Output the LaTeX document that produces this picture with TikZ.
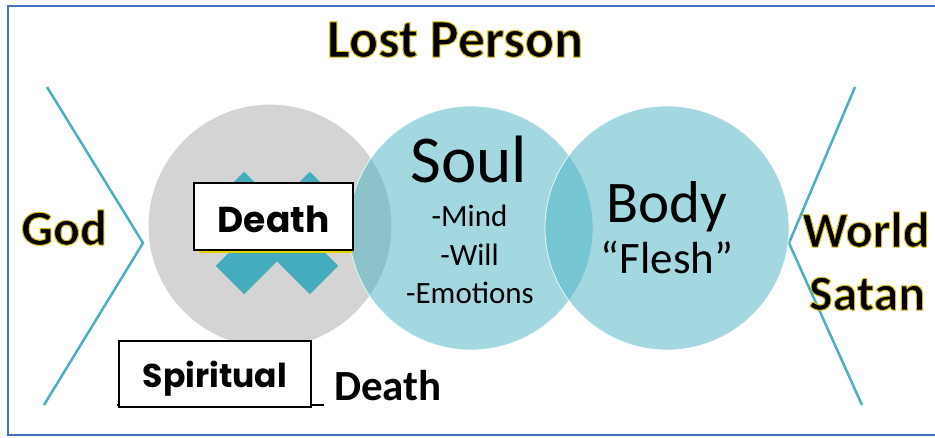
\documentclass[tikz,border=0pt]{standalone}
\usepackage{fontspec}
\setmainfont{Carlito}
\newfontfamily\gothic{Poppins}
\usetikzlibrary{calc}
\definecolor{frameblue}{HTML}{4472C4}
\definecolor{chev}{HTML}{4AAFBF}
\definecolor{graycirc}{HTML}{D4D4D4}
\definecolor{tealbase}{HTML}{49B2C3}
\definecolor{xteal}{HTML}{45ACBE}
\definecolor{boxyellow}{HTML}{E6D600}
\newcommand\glow[1]{\special{pdf:literal direct 2 Tr 1.0 w 0.84 0.74 0.06 RG}#1\special{pdf:literal direct 0 Tr 0 0 0 RG}}
\begin{document}
\begin{tikzpicture}[x=1pt,y=-1pt,
  every node/.style={inner sep=0pt, outer sep=0pt},
  chevline/.style={draw=chev, line width=2.5pt},
  bigcirc/.style={circle, minimum size=244pt},
  tealcirc/.style={bigcirc, fill=tealbase, fill opacity=0.5, draw=white, draw opacity=0.8, line width=0.8pt},
  xbar/.style={rectangle, fill=xteal, minimum width=133pt, minimum height=40pt},
  labelbox/.style={draw=black, line width=1.5pt, fill=white, text depth=0pt},
  glowtxt/.style={anchor=base, font=\fontsize{50}{50}\selectfont\bfseries},
  soultxt/.style={anchor=base, font=\fontsize{31}{31}\selectfont}
]
\useasboundingbox (0,0) rectangle (935,437);
\begin{scope}
  \clip (0,0) rectangle (935,437);
  \draw[frameblue, line width=2pt] (8,6) rectangle (960,435);
\end{scope}

% chevrons
\coordinate (lt) at (47,87);
\coordinate (lv) at (143,243);
\coordinate (lb) at (44,405);
\coordinate (rt) at (855,87);
\coordinate (rv) at (789,243);
\coordinate (rb) at (862,405);
\draw[chevline] (lt) -- (lv) -- (lb);
\draw[chevline] (rt) -- (rv) -- (rb);

% circles
\node[bigcirc, fill=graycirc, draw=white, line width=1pt] (spirit) at (270,226) {};
\node[xbar, rotate=45] (xa) at (277,233) {};
\node[xbar, rotate=-45] (xb) at (277,233) {};
\node[tealcirc] (soul) at (471,228) {};
\node[tealcirc] (body) at (667,228) {};

% title and side labels
\node[glowtxt, font=\fontsize{54}{54}\selectfont\bfseries] (title) at (455,57) {\glow{Lost Person}};
\node[glowtxt] (god) at (64,245) {\glow{God}};
\node[glowtxt] (world) at (866,247) {\glow{World}};
\node[glowtxt] (satan) at (867,310) {\glow{Satan}};

% soul text
\node[anchor=base, font=\fontsize{67}{67}\selectfont] (soultitle) at (469,182) {Soul};
\node[soultxt] (mind) at (469.5,226) {-Mind};
\node[soultxt] (will) at (469.5,265) {-Will};
\node[soultxt] (emo) at (470,303) {-Emotions};

% body text
\node[anchor=base, font=\fontsize{59}{59}\selectfont] (bodytitle) at (667,222) {Body};
\node[anchor=base, font=\fontsize{45}{45}\selectfont] (flesh) at (667,273) {“Flesh”};

% Death box
\node[labelbox, minimum width=159pt, minimum height=67pt, text height=31pt, font=\gothic\bfseries\fontsize{36}{36}\selectfont] (deathbox) at (273.5,216.5) {Death};
\draw[boxyellow, line width=2pt] ($(deathbox.south west)+(5,2.2)$) -- ($(deathbox.south east)+(-1,2.2)$);

% Spiritual ___ Death
\coordinate (ul1) at (117,405);
\coordinate (ul2) at (324,405);
\draw[black, line width=1.5pt] (ul1) -- (ul2);
\node[labelbox, minimum width=192pt, minimum height=66pt, text height=26pt, font=\gothic\bfseries\fontsize{33}{33}\selectfont] (spiritbox) at (215,374) {Spiritual};
\node[anchor=base, font=\fontsize{43}{43}\selectfont\bfseries] (death2) at (388,400) {Death};
\end{tikzpicture}
\end{document}
